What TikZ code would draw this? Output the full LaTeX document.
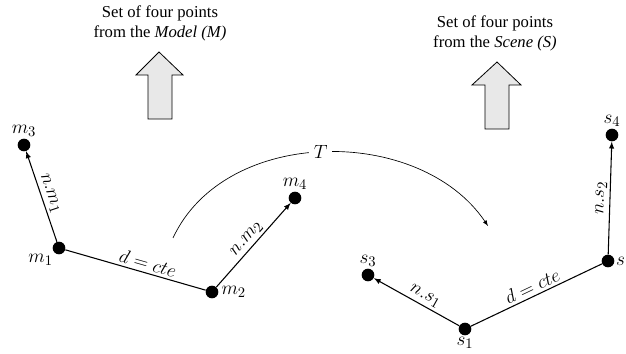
\documentclass[tikz,border=0pt]{standalone}
\usepackage{amsmath}
\usepackage{fontspec}
\setmainfont{Liberation Serif}
\usepackage{tikz}

\tikzset{
    pt/.style={circle, fill=black, inner sep=0pt, minimum size=9.5pt},
    vec/.style={-latex, line width=0.8pt},
    lbl/.style={font=\fontsize{15}{17}\selectfont},
    every label/.style={lbl, inner sep=1pt},
    caption/.style={align=center, font=\fontsize{12.5}{15}\selectfont},
    bigarrow/.style={draw=black, fill=gray!18, line width=0.6pt}
}

\begin{document}
\begin{tikzpicture}[x=0.75pt, y=0.75pt]
    \useasboundingbox (0,0) rectangle (626,354);

    % Captions
    \node[caption] (capM) at (160,331) {Set of four points\\from the \textit{Model (M)}};
    \node[caption] (capS) at (495,321) {Set of four points\\from the \textit{Scene (S)}};

    % Block arrows
    \filldraw[bigarrow] (148,235) -- (172,235) -- (172,279) -- (183,279) -- (159,302) -- (136,279) -- (148,279) -- cycle;
    \filldraw[bigarrow] (485,225) -- (509,225) -- (509,269) -- (521,269) -- (497,292) -- (472,269) -- (485,269) -- cycle;

    % Model points
    \node[pt, label={[label distance=0pt]below left:$m_1$}] (m1) at (59,106) {};
    \node[pt, label={[label distance=1pt]right:$m_2$}] (m2) at (212,62) {};
    \node[pt, label={above:$m_3$}] (m3) at (24,209) {};
    \node[pt, label={above:$m_4$}] (m4) at (295,156) {};

    \draw[vec] (m1) -- node[sloped, above, lbl, inner sep=2pt] {$n.m_1$} (m3);
    \draw[line width=0.8pt] (m1) -- node[sloped, above, lbl, inner sep=2pt, pos=0.57] {$d = cte$} (m2);
    \draw[vec] (m2) -- node[sloped, above, lbl, inner sep=2pt] {$n.m_2$} (m4);

    % Scene points
    \node[pt, label={below:$s_1$}] (s1) at (465,25) {};
    \node[pt, label={right:$s$}] (s2) at (608,93) {};
    \node[pt, label={above:$s_3$}] (s3) at (368,79) {};
    \node[pt, label={above:$s_4$}] (s4) at (612,219) {};

    \draw[vec] (s1) -- node[sloped, above, lbl, inner sep=2pt, pos=0.45] {$n.s_1$} (s3);
    \draw[line width=0.8pt] (s1) -- node[sloped, above, lbl, inner sep=2pt] {$d = cte$} (s2);
    \draw[vec] (s2) -- node[sloped, above, lbl, inner sep=2pt] {$n.s_2$} (s4);

    % Transformation T
    \coordinate (tA) at (173,116);
    \coordinate (tB) at (488,128);
    \draw[-latex, line width=0.5pt] (tA) .. controls (225,228) and (420,229) .. node[fill=white, lbl, pos=0.49] (T) {$T$} (tB);
\end{tikzpicture}
\end{document}
